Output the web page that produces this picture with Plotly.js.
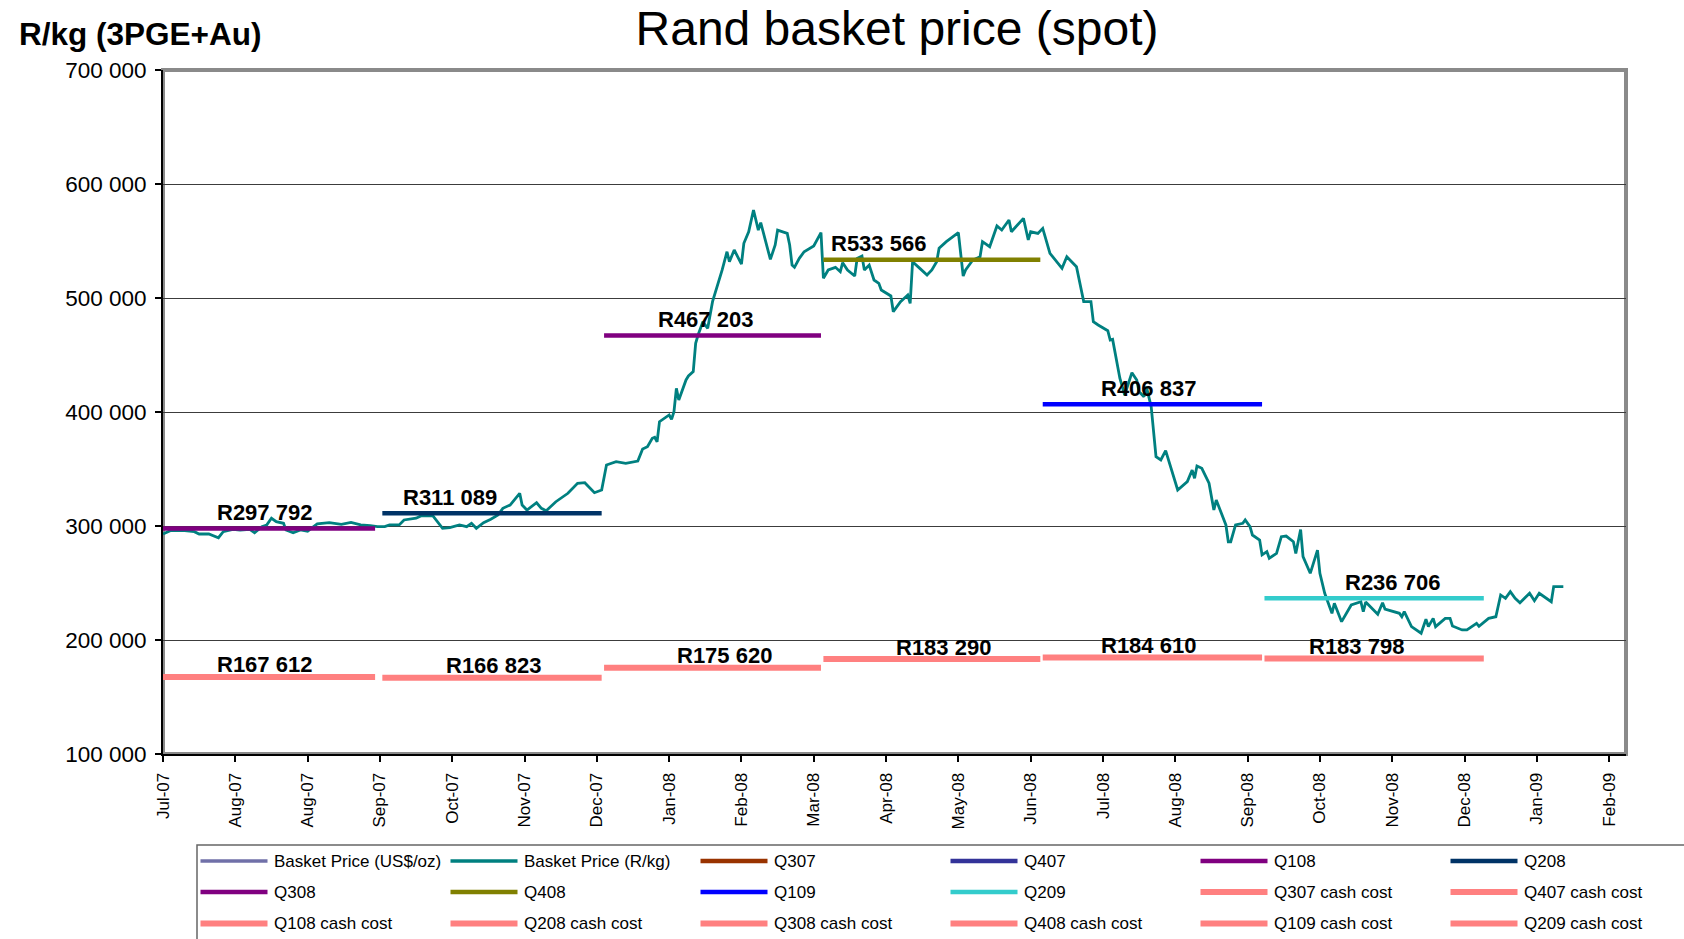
<!DOCTYPE html>
<html>
<head>
<meta charset="utf-8">
<script src="https://cdn.plot.ly/plotly-3.0.1.min.js"></script>
<style>
html,body{margin:0;padding:0;background:#fff;}
#chart{width:1684px;height:939px;}
</style>
</head>
<body>
<div id="chart"></div>
<script>
// ---------------- DATA ----------------
const basketDates = [
'2007-07-02','2007-07-05','2007-07-11','2007-07-15','2007-07-17','2007-07-21','2007-07-25','2007-07-27','2007-07-31',
'2007-08-03','2007-08-07','2007-08-09','2007-08-12','2007-08-14','2007-08-16','2007-08-18','2007-08-21','2007-08-22','2007-08-25','2007-08-28','2007-08-31',
'2007-09-04','2007-09-09','2007-09-14','2007-09-18','2007-09-22','2007-09-26','2007-09-29',
'2007-10-02','2007-10-04','2007-10-08','2007-10-10','2007-10-15','2007-10-17','2007-10-22','2007-10-26','2007-10-29',
'2007-11-02','2007-11-05','2007-11-07','2007-11-09','2007-11-12','2007-11-15','2007-11-18','2007-11-20','2007-11-23','2007-11-27','2007-11-28','2007-11-30',
'2007-12-01','2007-12-04','2007-12-06','2007-12-08','2007-12-12','2007-12-17','2007-12-21','2007-12-24','2007-12-28','2007-12-31',
'2008-01-02','2008-01-06','2008-01-10','2008-01-15','2008-01-17','2008-01-19','2008-01-21','2008-01-22','2008-01-23','2008-01-24','2008-01-28','2008-01-29','2008-01-30','2008-01-31',
'2008-02-01','2008-02-04','2008-02-05','2008-02-07','2008-02-08','2008-02-09','2008-02-11','2008-02-13','2008-02-15','2008-02-17','2008-02-19','2008-02-21','2008-02-22','2008-02-24','2008-02-27','2008-02-28',
'2008-03-01','2008-03-03','2008-03-05','2008-03-06','2008-03-10','2008-03-12','2008-03-13','2008-03-17','2008-03-18','2008-03-19','2008-03-20','2008-03-22','2008-03-24','2008-03-28','2008-03-31',
'2008-04-01','2008-04-03','2008-04-06','2008-04-08','2008-04-09','2008-04-11','2008-04-14','2008-04-15','2008-04-17','2008-04-18','2008-04-20','2008-04-22','2008-04-24','2008-04-25','2008-04-29','2008-04-30',
'2008-05-03','2008-05-06','2008-05-07','2008-05-08','2008-05-11','2008-05-14','2008-05-16','2008-05-18','2008-05-19','2008-05-22','2008-05-27','2008-05-29','2008-05-30',
'2008-06-02','2008-06-05','2008-06-06','2008-06-09','2008-06-12','2008-06-14','2008-06-17','2008-06-18','2008-06-23','2008-06-25','2008-06-26','2008-06-29',
'2008-07-01','2008-07-04','2008-07-07','2008-07-09','2008-07-11','2008-07-15','2008-07-18','2008-07-21','2008-07-22','2008-07-24','2008-07-28','2008-07-29','2008-07-30',
'2008-08-02','2008-08-04','2008-08-05','2008-08-07','2008-08-09','2008-08-10','2008-08-12','2008-08-13','2008-08-15','2008-08-17','2008-08-19','2008-08-21','2008-08-26','2008-08-28','2008-08-30',
'2008-09-01','2008-09-02','2008-09-03','2008-09-05','2008-09-08','2008-09-10','2008-09-11','2008-09-15','2008-09-16','2008-09-17','2008-09-19','2008-09-22','2008-09-23','2008-09-25','2008-09-26','2008-09-29','2008-09-30',
'2008-10-02','2008-10-03','2008-10-06','2008-10-08','2008-10-10','2008-10-13','2008-10-14','2008-10-16','2008-10-17','2008-10-20','2008-10-23','2008-10-24','2008-10-26','2008-10-29','2008-10-30',
'2008-11-02','2008-11-06','2008-11-10','2008-11-11','2008-11-12','2008-11-17','2008-11-19','2008-11-20','2008-11-26','2008-11-27','2008-11-28',
'2008-12-01','2008-12-05','2008-12-07','2008-12-08','2008-12-10','2008-12-11','2008-12-15','2008-12-17','2008-12-18','2008-12-22','2008-12-24','2008-12-28','2008-12-29',
'2009-01-02','2009-01-05','2009-01-07','2009-01-09','2009-01-11','2009-01-13','2009-01-15','2009-01-19','2009-01-21','2009-01-23','2009-01-28','2009-01-29','2009-02-02'
];
const basketRkg = [
293000,295900,295900,295000,293000,293000,289700,295000,297100,
296500,297100,294100,299400,300900,306800,303800,302400,296500,294100,296500,295400,
301800,302900,301500,303200,300900,300300,299400,
299400,300900,300900,305300,306800,308800,308800,298000,298500,
300900,299400,302400,298000,302900,305900,309600,315500,318400,328700,318400,314000,
315500,320400,315500,313400,321300,328700,337500,338000,329200,331600,
353500,356400,355000,357000,367500,369600,376900,377800,373900,391500,397400,393600,400300,420700,
410500,428100,431600,435400,460300,467500,479200,473400,496800,509900,524600,540600,531800,542100,529800,548000,
558100,577200,559600,566100,533900,546500,559600,556700,546500,528900,526900,534800,540600,545600,557300,
517300,524600,526900,523100,531000,524600,519300,534800,536800,524600,528900,515800,512900,507000,501800,488000,
496800,502600,495300,531800,526000,520200,524600,531800,543600,549400,557300,519300,524600,
533300,536200,549400,545000,563200,559600,568400,558100,569900,550900,558100,556700,
561100,539200,531800,526000,536200,527400,496800,496800,479200,476300,471300,463100,463700,
429600,414900,420800,434500,428100,417800,413400,422200,404700,360800,357900,366100,331600,335100,338900,
349100,341800,352600,350600,337500,314000,322800,300900,286200,286200,300900,302400,305300,299400,292100,287700,274600,
277500,271700,276000,290600,291200,286200,276000,296900,273100,258500,278900,258500,241000,223400,232200,
216100,230700,233600,224800,233300,222500,232700,227200,223400,220400,224800,
211700,205900,218200,211700,219000,211700,219000,219000,212300,208800,208800,214600,212000,
219000,220400,239500,236600,242400,236600,232700,241000,234500,241000,233600,246800,246800
];
const basketUsdDates = [];   // US$/oz series: listed in legend, not plotted on this axis
const basketUsd = [];

const quarterNames  = ['Q307','Q407','Q108','Q208','Q308','Q408','Q109','Q209'];
const quarterStart  = [null, null, '2007-07-02','2007-10-01','2008-01-01','2008-04-01','2008-07-01','2008-10-01'];
const quarterEnd    = [null, null, '2007-09-28','2007-12-31','2008-03-31','2008-06-30','2008-09-30','2008-12-31'];
const quarterAvg    = [null, null, 297792, 311089, 467203, 533566, 406837, 236706];
const cashCost      = [null, null, 167612, 166823, 175620, 183290, 184610, 183798];
const quarterLabelDates = [null, null, '2007-08-13','2007-10-29','2008-02-12','2008-04-24','2008-08-14','2008-11-23'];
const cashLabelDates    = [null, null, '2007-08-13','2007-11-16','2008-02-20','2008-05-21','2008-08-14','2008-11-08'];

const tickDates = ['2007-07-02','2007-08-01','2007-08-31','2007-09-30','2007-10-30','2007-11-29','2007-12-29',
  '2008-01-28','2008-02-27','2008-03-28','2008-04-27','2008-05-27','2008-06-26','2008-07-26','2008-08-25',
  '2008-09-24','2008-10-24','2008-11-23','2008-12-23','2009-01-22','2009-02-21'];
const tickLabels = ['Jul-07','Aug-07','Aug-07','Sep-07','Oct-07','Nov-07','Dec-07','Jan-08','Feb-08','Mar-08',
  'Apr-08','May-08','Jun-08','Jul-08','Aug-08','Sep-08','Oct-08','Nov-08','Dec-08','Jan-09','Feb-09'];

// ---------------- STYLE ----------------
const FONT = 'Liberation Sans, Arial, Helvetica, sans-serif';
const quarterColors = ['#993300','#333399','#800080','#003366','#800080','#808000','#0000FF','#33CCCC'];
const cashColor = '#FF8080';

const W = 1684, H = 939, ML = 163, MR = 58, MT = 70, MB = 185;
const PW = W - ML - MR, PH = H - MT - MB;
const px = v => (v - ML) / PW;
const py = v => (H - MB - v) / PH;
const fmt = n => String(n).replace(/\B(?=(\d{3})+(?!\d))/g, ' ');

// ---------------- TRACES ----------------
const traces = [];
const legendItems = [];
function addTrace(name, x, y, color, width) {
  traces.push({type:'scatter', mode:'lines', name:name, x:x, y:y,
    line:{color:color, width:width}, showlegend:false, hoverinfo:'x+y+name'});
  legendItems.push({name:name, color:color, width:width});
}
addTrace('Basket Price (US$/oz)', basketUsdDates, basketUsd, '#7070A8', 3);
addTrace('Basket Price (R/kg)', basketDates, basketRkg, '#008080', 2.8);
quarterNames.forEach((q, i) => {
  const has = quarterAvg[i] !== null;
  addTrace(q, has ? [quarterStart[i], quarterEnd[i]] : [], has ? [quarterAvg[i], quarterAvg[i]] : [], quarterColors[i], 4.5);
});
quarterNames.forEach((q, i) => {
  const has = cashCost[i] !== null;
  addTrace(q + ' cash cost', has ? [quarterStart[i], quarterEnd[i]] : [], has ? [cashCost[i], cashCost[i]] : [], cashColor, 6);
});

// ---------------- ANNOTATIONS ----------------
const annotations = [];
const labelFont = {family:FONT, size:22, color:'#000', weight:'bold'};
quarterNames.forEach((q, i) => {
  if (quarterAvg[i] !== null) {
    annotations.push({x:quarterLabelDates[i], y:quarterAvg[i], xref:'x', yref:'y', text:'R' + fmt(quarterAvg[i]),
      showarrow:false, xanchor:'center', yanchor:'middle', yshift:16, font:labelFont});
  }
  if (cashCost[i] !== null) {
    annotations.push({x:cashLabelDates[i], y:cashCost[i], xref:'x', yref:'y', text:'R' + fmt(cashCost[i]),
      showarrow:false, xanchor:'center', yanchor:'middle', yshift:12, font:labelFont});
  }
});
annotations.push({x:px(17), y:py(34), xref:'paper', yref:'paper', text:'R/kg (3PGE+Au)', showarrow:false,
  xanchor:'left', yanchor:'middle', font:{family:FONT, size:31.5, color:'#000', weight:'bold'}});

// ---------------- SHAPES ----------------
const shapes = [
  {type:'rect', xref:'paper', yref:'paper', x0:0, x1:1, y0:0, y1:1, line:{color:'#8a8a8a', width:4}, layer:'below'},
  {type:'rect', xref:'paper', yref:'paper', x0:px(197), x1:px(1720), y0:py(845), y1:py(990), line:{color:'#666', width:1.5}, layer:'above'}
];
// custom legend (6 columns x 3 rows, as in the reference)
const rowY = [861, 892, 923.5];
legendItems.forEach((it, i) => {
  const col = i % 6, row = Math.floor(i / 6);
  const x0 = 200.5 + 250 * col;
  shapes.push({type:'line', xref:'paper', yref:'paper', x0:px(x0), x1:px(x0 + 67), y0:py(rowY[row]), y1:py(rowY[row]),
    line:{color:it.color, width:Math.max(it.width, 3.5)}});
  annotations.push({x:px(x0 + 71), y:py(rowY[row]), xref:'paper', yref:'paper', text:it.name, showarrow:false,
    xanchor:'left', yanchor:'middle', font:{family:FONT, size:17, color:'#000'}});
});

// ---------------- LAYOUT ----------------
const layout = {
  width:W, height:H,
  margin:{l:ML, r:MR, t:MT, b:MB, pad:0},
  paper_bgcolor:'#fff', plot_bgcolor:'#fff',
  separators:'. ',
  showlegend:false,
  font:{family:FONT, color:'#000'},
  title:{text:'Rand basket price (spot)', font:{family:FONT, size:48, color:'#000'},
    xref:'container', yref:'container', x:897/W, xanchor:'center', y:1 - 28/H, yanchor:'middle'},
  xaxis:{type:'date', range:['2007-07-02','2009-02-28'], tickmode:'array', tickvals:tickDates, ticktext:tickLabels,
    tickangle:-90, ticks:'outside', ticklen:6, tickwidth:1.5, tickcolor:'#000', showgrid:false, zeroline:false,
    showline:true, linecolor:'#000', linewidth:2, tickfont:{family:FONT, size:17, color:'#000'}, ticklabelstandoff:4},
  yaxis:{range:[100000,700000], tick0:100000, dtick:100000, tickformat:',d', ticks:'outside', ticklen:6, tickwidth:1.5,
    tickcolor:'#000', showgrid:true, gridcolor:'#3c3c3c', gridwidth:1, zeroline:false,
    showline:true, linecolor:'#000', linewidth:2, tickfont:{family:FONT, size:22.5, color:'#000'}, ticklabelstandoff:4},
  shapes:shapes,
  annotations:annotations
};

Plotly.newPlot('chart', traces, layout, {displayModeBar:false, responsive:false});
</script>
</body>
</html>
